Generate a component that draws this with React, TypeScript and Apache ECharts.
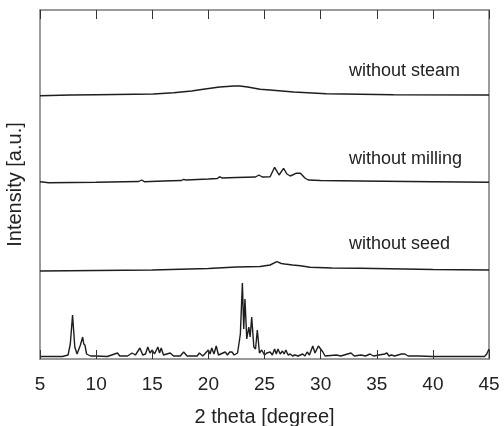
import React, { useEffect, useRef } from "react";
import * as echarts from "echarts";

// 2θ tick labels
const xTicks = [5, 10, 15, 20, 25, 30, 35, 40, 45];

// sample names (top to bottom after crystalline)
const sampleNames = ["without steam", "without milling", "without seed"];

// vertical offsets of the stacked traces (arbitrary units)
const offsets = { crystalline: 0, seed: 88, milling: 177, steam: 264 };

// crystalline reference pattern: [2θ, intensity]
const crystalline: [number, number][] = [
  [5.0, 2.5], [6.0, 2.5], [7.0, 2.5], [7.5, 4], [7.7, 15], [7.9, 44], [8.1, 12], [8.3, 5],
  [8.6, 14], [8.8, 22], [8.9, 15], [9.0, 14], [9.15, 5], [9.5, 3], [10.0, 3], [11.0, 2.5],
  [11.9, 6], [12.1, 3], [12.8, 3], [13.2, 6], [13.5, 4], [13.9, 11], [14.15, 4], [14.4, 5],
  [14.6, 12], [14.8, 6], [15.0, 9], [15.2, 5], [15.5, 12], [15.65, 6], [15.8, 11], [16.0, 4],
  [16.6, 6], [16.9, 3], [17.5, 3], [17.8, 7], [18.1, 3], [19.0, 3], [19.2, 6], [19.5, 3],
  [20.0, 9], [20.15, 5], [20.3, 11], [20.5, 5], [20.7, 13], [20.9, 4], [21.5, 7], [21.7, 4],
  [21.9, 7], [22.1, 7], [22.3, 4], [22.6, 6], [22.85, 25], [23.03, 76], [23.15, 30], [23.26, 60],
  [23.42, 20], [23.6, 32], [23.72, 22], [23.86, 42], [24.05, 12], [24.2, 10], [24.36, 29], [24.55, 6],
  [24.75, 9], [25.0, 4], [25.2, 6], [25.5, 7], [25.7, 4], [25.9, 10], [26.05, 5], [26.2, 10],
  [26.4, 5], [26.6, 8], [26.75, 5], [26.9, 9], [27.1, 4], [27.3, 5], [27.5, 3], [27.7, 4],
  [28.0, 3], [28.4, 5], [28.6, 3], [28.8, 7], [29.0, 4], [29.3, 13], [29.5, 6], [29.8, 13],
  [30.0, 10], [30.2, 7], [30.4, 3], [31.4, 4], [31.8, 3], [32.7, 6], [33.0, 3], [33.6, 4],
  [34.0, 3], [34.4, 5], [34.7, 3], [35.7, 5], [35.9, 6], [36.1, 3], [36.3, 4], [36.6, 3],
  [37.2, 5], [37.5, 5], [37.8, 3], [38.7, 3], [40.0, 2.5], [42.0, 2.5], [44.6, 2.5], [44.8, 5],
  [45.0, 10],
];

// without seed: [2θ, intensity]
const withoutSeed: [number, number][] = [
  [5, 0], [10, 0.5], [15, 1], [20, 2.5], [22.5, 4], [24.6, 4.5], [25.5, 6], [26.1, 9.3],
  [26.5, 7.5], [26.8, 7], [27.5, 6], [28.2, 5.3], [29.05, 3.7], [31, 3], [33.5, 2.7], [40, 1.5],
  [45, 1],
];

// without milling: [2θ, intensity]
const withoutMilling: [number, number][] = [
  [5, 0.3], [5.8, -0.7], [10, -0.3], [13.8, 0.5], [14.06, 2], [14.3, 0.3], [16, 1], [17.6, 1.5],
  [17.8, 2.7], [18.0, 2], [20, 3], [20.8, 3.5], [21.0, 5.3], [21.2, 4], [22.5, 4.5], [24.2, 5],
  [24.5, 7], [24.8, 5], [25.5, 5.3], [25.9, 14.7], [26.3, 7], [26.7, 13.7], [27.0, 8], [27.3, 6],
  [27.8, 8.7], [28.2, 8.7], [28.6, 4], [28.9, 2], [30, 1.5], [33.5, 1], [40, 0.3], [45, -0.3],
];

// without steam: [2θ, intensity]
const withoutSteam: [number, number][] = [
  [5, -0.7], [7.7, 0], [10, 0.3], [15.1, 1], [16.9, 2.3], [18.5, 4], [19.55, 5.7], [21, 8],
  [22.3, 9], [22.8, 9], [23.5, 8], [24.6, 5.7], [25.5, 5], [27.6, 3], [30.5, 1.3], [36.5, 0.3],
  [45, 0],
];

const shift = (arr: [number, number][], off: number) => arr.map(([x, y]) => [x, y + off]);

export default function App() {
  const ref = useRef<HTMLDivElement>(null);
  useEffect(() => {
    if (!ref.current) return;
    const chart = echarts.init(ref.current, null, { renderer: "svg" });
    const font = "'Liberation Sans', Arial, sans-serif";
    const lineStyle = { color: "#1e1e1e", width: 1.4 };
    const frame = () => ({ show: true, onZero: false, lineStyle: { color: "#7a7a7a", width: 1.5 } });
    const tick = () => ({ show: true, inside: true, length: 9, lineStyle: { color: "#333", width: 1 } });
    const mk = (name: string, data: number[][]) => ({
      name,
      type: "line",
      data,
      showSymbol: false,
      symbol: "none",
      lineStyle,
      z: 1,
    });
    const label = (text: string, y: number) => ({
      type: "text",
      x: 349,
      y: y - 9,
      style: { text, font: `18px ${font}`, fill: "#222" },
    });
    chart.setOption({
      animation: false,
      grid: { left: 40, right: 15, top: 10, bottom: 67, outerBoundsMode: "none" },
      xAxis: [
        {
          type: "value",
          min: 5,
          max: 45,
          interval: 5,
          position: "bottom",
          name: "2 theta [degree]",
          nameLocation: "middle",
          nameGap: 47,
          nameTextStyle: { fontFamily: font, fontSize: 20, color: "#222" },
          axisLine: frame(),
          axisTick: tick(),
          axisLabel: {
            margin: 15,
            fontFamily: font,
            fontSize: 19,
            color: "#222",
            formatter: (v: number) => (xTicks.includes(v) ? String(v) : ""),
          },
          splitLine: { show: false },
          z: 5,
        },
        {
          type: "value",
          min: 5,
          max: 45,
          interval: 5,
          position: "top",
          axisLine: frame(),
          axisTick: tick(),
          axisLabel: { show: false },
          splitLine: { show: false },
          z: 5,
        },
      ],
      yAxis: [
        {
          type: "value",
          min: 0,
          max: 349,
          position: "left",
          name: "Intensity [a.u.]",
          nameLocation: "middle",
          nameGap: 16,
          nameTextStyle: { fontFamily: font, fontSize: 20, color: "#222" },
          axisLine: frame(),
          axisTick: { show: false },
          axisLabel: { show: false },
          splitLine: { show: false },
        },
        {
          type: "value",
          min: 0,
          max: 349,
          position: "right",
          axisLine: frame(),
          axisTick: { show: false },
          axisLabel: { show: false },
          splitLine: { show: false },
        },
      ],
      series: [
        mk("crystalline", shift(crystalline, offsets.crystalline)),
        mk(sampleNames[2], shift(withoutSeed, offsets.seed)),
        mk(sampleNames[1], shift(withoutMilling, offsets.milling)),
        mk(sampleNames[0], shift(withoutSteam, offsets.steam)),
      ],
      graphic: [label(sampleNames[0], 70), label(sampleNames[1], 158), label(sampleNames[2], 243)],
    });
    return () => chart.dispose();
  }, []);
  return <div ref={ref} style={{ position: "fixed", left: 0, top: 0, width: 504, height: 426 }} />;
}
